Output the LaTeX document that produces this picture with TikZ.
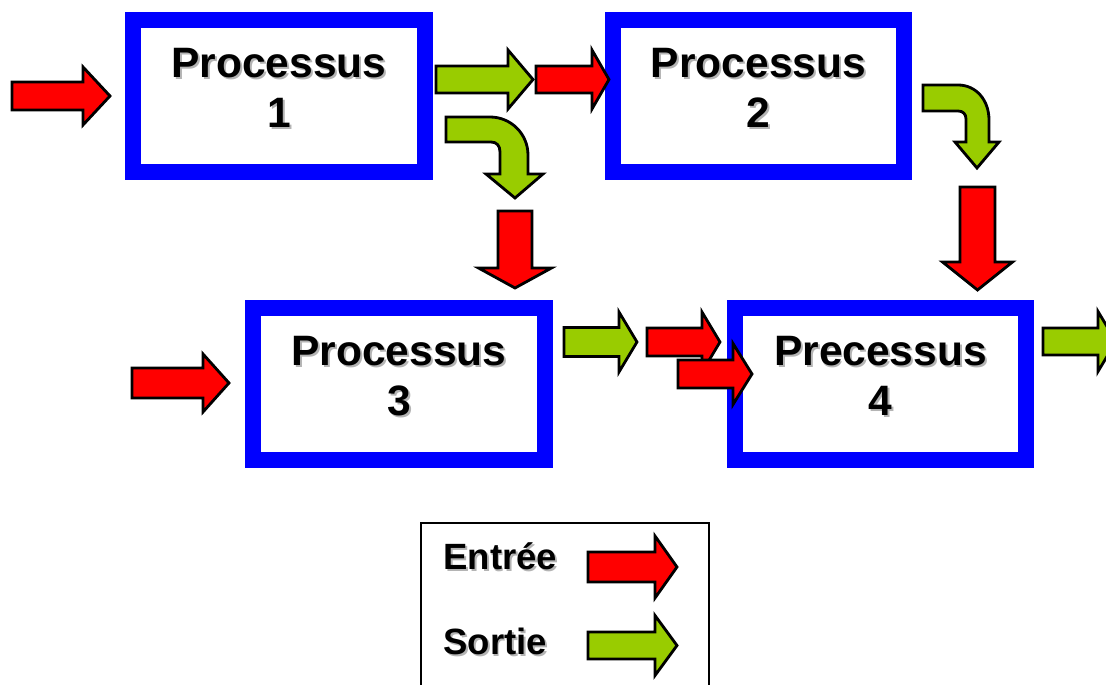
\documentclass[tikz,border=0pt]{standalone}
\usepackage{fontspec}
\setmainfont{Liberation Sans}
\usetikzlibrary{calc}

\definecolor{procblue}{HTML}{0000FF}
\definecolor{inred}{HTML}{FF0000}
\definecolor{outgreen}{HTML}{99CC00}
\definecolor{shadowgray}{HTML}{B4B4B4}

% text with a light grey shadow
\newcommand{\shad}[1]{\makebox[0pt][l]{\kern1.1pt\raisebox{-1.1pt}{\textcolor{shadowgray}{#1}}}#1}

\tikzset{
  procbox/.style={draw=procblue, line width=9.1pt, minimum width=5.84cm, minimum height=3.04cm, inner sep=0pt},
  proctext/.style={align=center, font=\fontsize{24.2}{28.4}\selectfont\bfseries, inner sep=0pt},
  legtext/.style={anchor=base west, font=\fontsize{20.8}{24}\selectfont\bfseries, inner sep=0pt},
  arrowline/.style={draw=black, line width=1.6pt, line join=miter},
  pics/blockarrow/.style n args={5}{code={
    \filldraw[arrowline, fill=#5] (0,-#2) -- ({#1-#4},-#2) -- ({#1-#4},-#3) -- (#1,0)
      -- ({#1-#4},#3) -- ({#1-#4},#2) -- (0,#2) -- cycle;}},
}

\begin{document}
\begin{tikzpicture}[x=0.02cm, y=-0.02cm]
    \useasboundingbox (0,0) rectangle (1106,685);
    \clip (0,0) rectangle (1106,685);
    % the four processes
    \node[procbox] (P1) at (279,96) {};
    \node[procbox] (P2) at (758.5,96) {};
    \node[procbox] (P3) at (399,384) {};
    \node[procbox] (P4) at (880.5,384) {};
    \node[proctext] (T1) at ($(P1)+(0,-7)$) {\shad{Processus}\\\shad{1}};
    \node[proctext] (T2) at ($(P2)+(0,-7)$) {\shad{Processus}\\\shad{2}};
    \node[proctext] (T3) at ($(P3)+(0,-7)$) {\shad{Processus}\\\shad{3}};
    \node[proctext] (T4) at ($(P4)+(0,-7)$) {\shad{Precessus}\\\shad{4}};
    % legend
    \draw[line width=1.1pt] (421,523) rectangle (709,700);
    \node[legtext] (E) at (443,570) {\shad{Entrée}};
    \node[legtext] (S) at (443,655) {\shad{Sortie}};
    \pic at (588,567) {blockarrow={89}{15}{31}{22}{inred}};
    \pic at (588,645.5) {blockarrow={89}{13.5}{30}{22}{outgreen}};
    % inputs and outputs
    \pic at (12,96) {blockarrow={98}{14}{29}{27}{inred}};
    \pic at (436,79.5) {blockarrow={97}{13.5}{29.5}{25}{outgreen}};
    \pic at (536,79.5) {blockarrow={73}{13.5}{29.5}{17}{inred}};
    \pic[rotate=-90] at (515,211) {blockarrow={77}{17}{36.5}{20}{inred}};
    \pic[rotate=-90] at (977.5,187) {blockarrow={103}{17.5}{35}{28}{inred}};
    \pic at (132,383) {blockarrow={97}{15}{29}{26}{inred}};
    \pic at (564,342) {blockarrow={73}{14.5}{30}{18}{outgreen}};
    \pic at (647,342) {blockarrow={73}{14}{30}{18}{inred}};
    \pic at (678,374) {blockarrow={74}{14}{30.5}{19}{inred}};
    \pic at (1043,341.5) {blockarrow={73}{13.5}{30}{18}{outgreen}};
    % bent outputs
    \filldraw[arrowline, fill=outgreen] (446,117) -- (490,117) .. controls (511,117) and (528,134) .. (528,155)
      -- (528,174) -- (543,174) -- (515,198) -- (486,174) -- (500,174) -- (500,152)
      .. controls (500,146) and (497,142) .. (491,142) -- (446,142) -- cycle;
    \filldraw[arrowline, fill=outgreen] (923,85) -- (958,85) .. controls (976,85) and (989,100) .. (989,120)
      -- (989,142) -- (999,142) -- (977,168) -- (955,142) -- (966,142) -- (966,119)
      .. controls (966,114) and (963,111) .. (958,111) -- (923,111) -- cycle;
\end{tikzpicture}
\end{document}
